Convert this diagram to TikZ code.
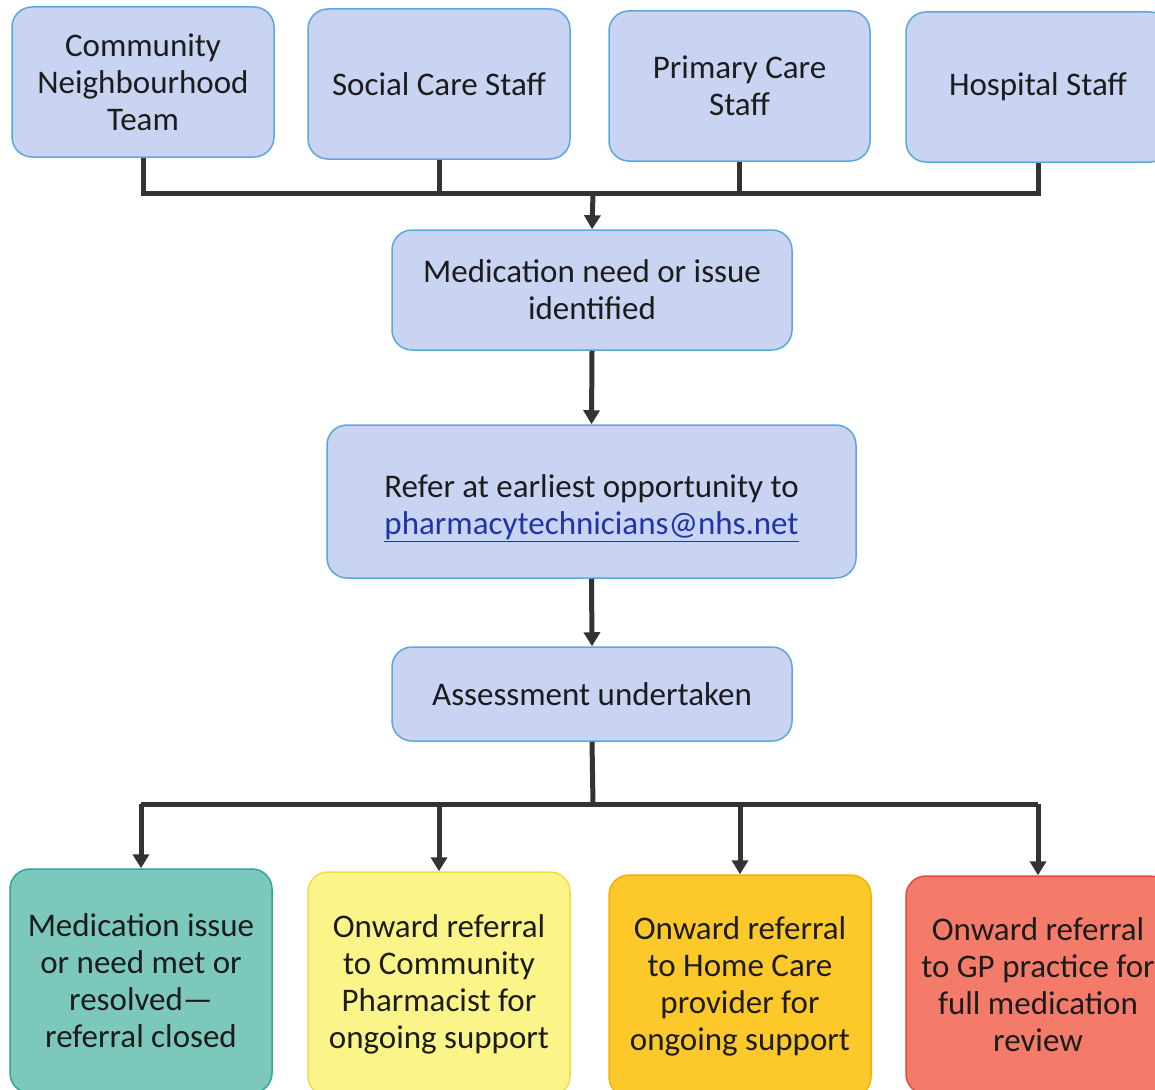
\documentclass[tikz,border=0pt]{standalone}
\usepackage{fontspec}
\setmainfont{Carlito}
\usetikzlibrary{arrows.meta}
\definecolor{bluefill}{HTML}{C9D3F2}
\definecolor{blueline}{HTML}{5AA8E0}
\definecolor{tealfill}{HTML}{7DC8BC}
\definecolor{tealline}{HTML}{2AA69E}
\definecolor{yelfill}{HTML}{FBF589}
\definecolor{yelline}{HTML}{EEDD44}
\definecolor{goldfill}{HTML}{FCC82A}
\definecolor{goldline}{HTML}{F2B400}
\definecolor{redfill}{HTML}{F47B6A}
\definecolor{redline}{HTML}{E8483A}
\definecolor{conn}{HTML}{333333}
\definecolor{txt}{HTML}{1C1C1C}
\definecolor{mail}{HTML}{2035A8}
\tikzset{
  box/.style={draw=blueline, fill=bluefill, line width=1.5pt, rounded corners=20pt,
    align=center, text=txt, inner sep=0pt, font=\fontsize{33}{37}\selectfont},
  teal/.style={box, draw=tealline, fill=tealfill},
  yel/.style={box, draw=yelline, fill=yelfill},
  gold/.style={box, draw=goldline, fill=goldfill},
  redb/.style={box, draw=redline, fill=redfill},
  link/.style={draw=conn, line width=5pt},
  arr/.style={link, -{Triangle[width=16pt,length=14pt]}}
}
\begin{document}
\begin{tikzpicture}[x=1pt,y=-1pt]
\useasboundingbox (0,0) rectangle (1155,1089);
\clip (0,0) rectangle (1155,1089);
\fill[white] (0,0) rectangle (1155,1089);
% top row
\node[box, minimum width=262, minimum height=150] (t1) at (143,82) {Community\\Neighbourhood\\Team};
\node[box, minimum width=262, minimum height=150] (t2) at (439,84) {Social Care Staff};
\node[box, minimum width=261, minimum height=150] (t3) at (739.5,86) {Primary Care\\Staff};
\node[box, minimum width=264, minimum height=150] (t4) at (1038,87) {Hospital Staff};
% middle
\node[box, minimum width=400, minimum height=120] (med) at (592,290) {Medication need or issue\\identified};
\node[box, minimum width=529, minimum height=153] (refer) at (591.5,501.5) {\rule{0pt}{36pt}Refer at earliest opportunity to\\{\color{mail}\underline{pharmacytechnicians@nhs.net}}};
\node[box, minimum width=400, minimum height=94] (assess) at (592,694) {Assessment undertaken};
% bottom row
\node[teal, minimum width=262, minimum height=224] (b1) at (141,981) {Medication issue\\or need met or\\resolved---\\referral closed};
\node[yel, minimum width=262, minimum height=224] (b2) at (439,984) {Onward referral\\to Community\\Pharmacist for\\ongoing support};
\node[gold, minimum width=262, minimum height=222] (b3) at (740,986) {Onward referral\\to Home Care\\provider for\\ongoing support};
\node[redb, minimum width=264, minimum height=218] (b4) at (1038,985) {Onward referral\\to GP practice for\\full medication\\review};
% top connectors
\coordinate (j) at (593,193);
\draw[link] (t1.south) -- (t1.south |- j) -- (t4.south |- j) -- (t4.south);
\draw[link] (t2.south) -- (t2.south |- j);
\draw[link] (t3.south) -- (t3.south |- j);
\draw[arr] (j) -- (med.north);
\draw[arr] (med.south) -- (refer.north);
\draw[arr] (refer.south) -- (assess.north);
% bottom connectors
\coordinate (k) at (593,804);
\draw[link] (assess.south) -- (k);
\draw[link] (b1.north |- k) -- (b4.north |- k);
\draw[arr] (b1.north |- k) -- (b1.north);
\draw[arr] (b2.north |- k) -- (b2.north);
\draw[arr] (b3.north |- k) -- (b3.north);
\draw[arr] (b4.north |- k) -- (b4.north);
\end{tikzpicture}
\end{document}
